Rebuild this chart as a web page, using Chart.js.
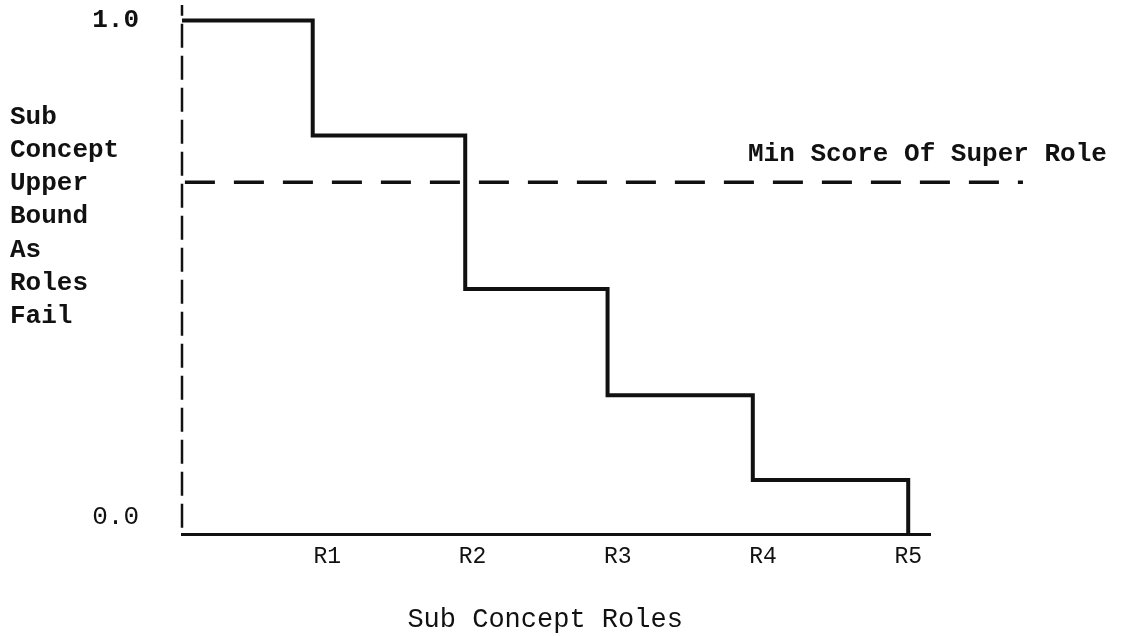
<!DOCTYPE html>
<html>
<head>
<meta charset="utf-8">
<script src="https://cdn.jsdelivr.net/npm/chart.js@4.4.1/dist/chart.umd.min.js"></script>
<style>
  html, body { margin: 0; padding: 0; background: #fff; }
  #wrap { width: 1138px; height: 636px; position: relative; }
</style>
</head>
<body>
<div id="wrap"><canvas id="chart"></canvas></div>
<script>
// step positions (x) and upper bound after each role fails
let stepX = [0, 0.90, 1.95, 2.93, 3.93, 5.0];
let upperBound = [1.0, 0.776, 0.477, 0.270, 0.105, 0.0];

// min score of super role (dashed threshold)
let minScore = 0.685;
let thresholdX = [0.02, 5.79];

// dashed y axis line
let axisY = [0.012, 1.03];

let xTickValues = [1, 2, 3, 4, 5];
let xTickLabels = ['R1', 'R2', 'R3', 'R4', 'R5'];
let yTickValues = [0.033, 1.0];
let yTickLabels = ['0.0', '1.0'];

let yTitleLines = ['Sub', 'Concept', 'Upper', 'Bound', 'As', 'Roles', 'Fail'];
let xTitle = 'Sub Concept Roles';
let thresholdLabel = 'Min Score Of Super Role';

const INK = '#111';
const MONO = "'Liberation Mono', 'DejaVu Sans Mono', monospace";

// extra texts: left title column, bottom title, threshold label
const textPlugin = {
    id: 'texts',
    afterDraw(chart) {
        const ctx = chart.ctx;
        const xs = chart.scales.x;
        const ys = chart.scales.y;
        ctx.save();
        ctx.fillStyle = INK;
        ctx.textBaseline = 'middle';

        ctx.font = 'bold 26px ' + MONO;
        ctx.textAlign = 'left';
        for (let i = 0; i < yTitleLines.length; i++) {
            ctx.fillText(yTitleLines[i], 10, 117 + i * 33.3);
        }

        ctx.font = '27px ' + MONO;
        ctx.textAlign = 'center';
        ctx.fillText(xTitle, xs.getPixelForValue(2.5), 620);

        ctx.font = 'bold 26px ' + MONO;
        ctx.textAlign = 'left';
        ctx.fillText(thresholdLabel, 748, ys.getPixelForValue(minScore) - 28);
        ctx.restore();
    }
};

let ctx = document.getElementById('chart').getContext('2d');
let chart = new Chart(ctx, {
    type: 'line',
    data: {
        datasets: [{
            label: 'Upper bound',
            data: stepX.map((x, i) => ({ x: x, y: upperBound[i] })),
            stepped: 'before',
            borderColor: INK,
            borderWidth: 4,
            borderJoinStyle: 'miter',
            pointRadius: 0,
            fill: false,
            clip: false
        }, {
            label: 'Min score of super role',
            data: thresholdX.map(x => ({ x: x, y: minScore })),
            borderColor: INK,
            borderWidth: 3.5,
            borderDash: [30, 19],
            pointRadius: 0,
            fill: false,
            clip: false
        }, {
            label: 'Y axis',
            data: axisY.map(y => ({ x: 0, y: y })),
            borderColor: INK,
            borderWidth: 2.5,
            borderDash: [24, 8],
            pointRadius: 0,
            fill: false,
            clip: false
        }]
    },
    options: {
        responsive: true,
        maintainAspectRatio: false,
        animation: false,
        layout: { padding: { top: 5, right: 208, bottom: 0, left: 0 } },
        plugins: {
            legend: { display: false },
            tooltip: { enabled: false }
        },
        scales: {
            x: {
                type: 'linear',
                min: 0,
                max: 5.15,
                grid: { display: false, drawTicks: false },
                border: { display: true, color: INK, width: 3 },
                afterBuildTicks: scale => { scale.ticks = xTickValues.map(v => ({ value: v })); },
                afterFit: scale => { scale.height = 102; },
                ticks: {
                    padding: 9,
                    color: INK,
                    font: { family: MONO, size: 23 },
                    maxRotation: 0,
                    autoSkip: false,
                    callback: (value, index) => xTickLabels[index]
                }
            },
            y: {
                type: 'linear',
                min: 0,
                max: 1.03,
                grid: { display: false, drawTicks: false },
                border: { display: false },
                afterBuildTicks: scale => { scale.ticks = yTickValues.map(v => ({ value: v })); },
                afterFit: scale => {
                    scale.width = 182;
                    scale.paddingTop = 0;
                    scale.paddingBottom = 0;
                },
                ticks: {
                    padding: 43,
                    color: INK,
                    font: c => ({ family: MONO, size: 26, weight: c.index === 1 ? 'bold' : 'normal' }),
                    callback: (value, index) => yTickLabels[index]
                }
            }
        }
    },
    plugins: [textPlugin]
});
</script>
</body>
</html>
